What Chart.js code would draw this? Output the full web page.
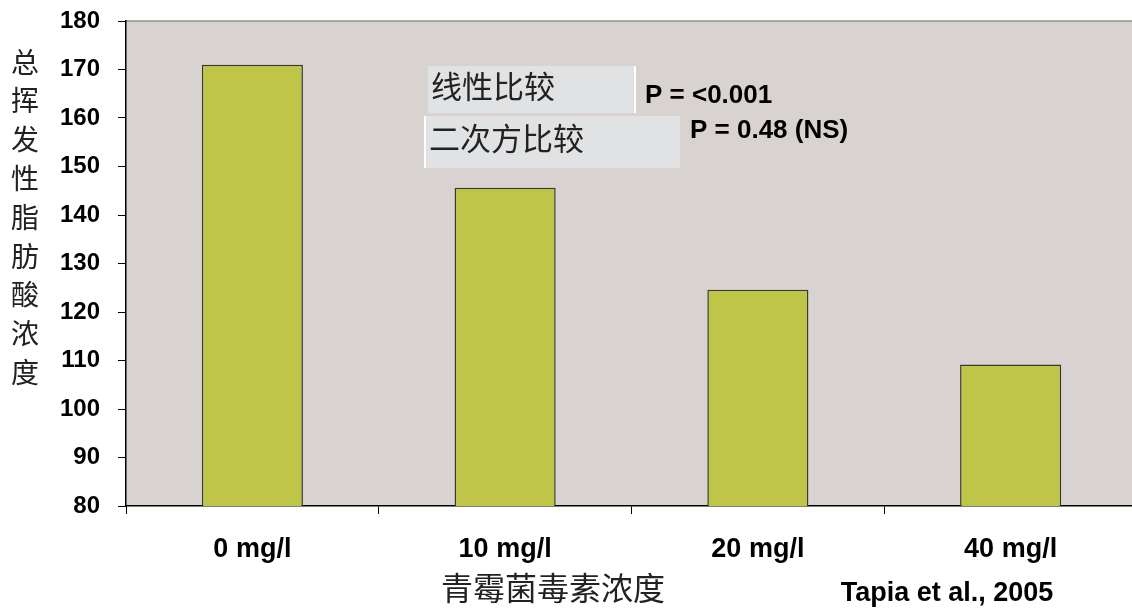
<!DOCTYPE html>
<html lang="zh">
<head>
  <meta charset="UTF-8">
  <title>青霉菌毒素浓度</title>
  <script src="https://cdn.jsdelivr.net/npm/chart.js"></script>
  <style>
    html, body { margin: 0; padding: 0; background: #fff; overflow: hidden; }
    #wrap { position: relative; width: 1142px; height: 613px; }
  </style>
</head>
<body>
<div id="wrap"><canvas id="myChart"></canvas></div>
<script>
  const categories = ['0 mg/l', '10 mg/l', '20 mg/l', '40 mg/l'];
  const values = [171, 145.6, 124.6, 109.2];
  const yTitle = ['总', '挥', '发', '性', '脂', '肪', '酸', '浓', '度'];
  const xTitle = '青霉菌毒素浓度';
  const source = 'Tapia et al., 2005';
  const notes = [
    { label: '线性比较', p: 'P = <0.001' },
    { label: '二次方比较', p: 'P = 0.48 (NS)' }
  ];

  const CJK = '"Noto Sans CJK SC", sans-serif';
  const BOLD = 'bold 27px "Liberation Sans", Arial, sans-serif';

  const decor = {
    id: 'decor',
    beforeDraw(chart) {
      const { ctx, chartArea: a } = chart;
      ctx.save();
      ctx.fillStyle = '#d8d3d0';
      ctx.fillRect(a.left, a.top, a.right - a.left, a.bottom - a.top);
      ctx.strokeStyle = '#8f8f8f';
      ctx.lineWidth = 1.5;
      ctx.beginPath();
      ctx.moveTo(a.left, a.top);
      ctx.lineTo(a.right, a.top);
      ctx.stroke();
      ctx.restore();
    },
    afterDraw(chart) {
      const { ctx } = chart;
      ctx.save();
      ctx.fillStyle = '#222';
      ctx.textAlign = 'center';
      ctx.textBaseline = 'middle';
      ctx.font = '28px ' + CJK;
      yTitle.forEach((ch, i) => ctx.fillText(ch, 25, 62 + i * 38.8));
      ctx.font = '32px ' + CJK;
      ctx.fillText(xTitle, 553, 588);
      ctx.fillStyle = '#000';
      ctx.font = BOLD;
      ctx.fillText(source, 947, 594);

      // annotation boxes
      ctx.fillStyle = '#e1e2e4';
      ctx.fillRect(428, 66, 207, 47);
      ctx.fillRect(424, 116, 256, 52);
      ctx.fillStyle = '#fff';
      ctx.fillRect(634, 66, 2, 47);
      ctx.fillRect(424, 116, 2, 52);
      ctx.fillStyle = '#222';
      ctx.textAlign = 'left';
      ctx.font = '31px ' + CJK;
      ctx.fillText(notes[0].label, 431, 86);
      ctx.fillText(notes[1].label, 429, 138);
      ctx.fillStyle = '#000';
      ctx.font = 'bold 26px "Liberation Sans", Arial, sans-serif';
      ctx.fillText(notes[0].p, 645, 96);
      ctx.fillText(notes[1].p, 690, 131);
      ctx.restore();
    }
  };

  new Chart(document.getElementById('myChart'), {
    type: 'bar',
    data: {
      labels: categories,
      datasets: [{
        data: values,
        backgroundColor: '#bfc546',
        borderColor: '#3a3a2a',
        borderWidth: 1.5,
        barPercentage: 0.4,
        categoryPercentage: 1
      }]
    },
    options: {
      responsive: true,
      maintainAspectRatio: false,
      animation: false,
      layout: { padding: { top: 21, right: 5, left: 0, bottom: 0 } },
      plugins: { legend: { display: false }, tooltip: { enabled: false } },
      scales: {
        x: {
          afterFit(s) { s.height = 107; s.paddingLeft = 0; s.paddingRight = 0; },
          grid: { display: true, drawOnChartArea: false, tickLength: 8, color: '#000', offset: true },
          border: { color: '#000', width: 1.5 },
          ticks: { color: '#000', font: { family: '"Liberation Sans", Arial', size: 27, weight: 'bold' }, padding: 19 }
        },
        y: {
          min: 80,
          max: 180,
          afterFit(s) { s.width = 126; s.paddingTop = 0; s.paddingBottom = 0; },
          grid: { display: true, drawOnChartArea: false, tickLength: 8, color: '#000' },
          border: { color: '#000', width: 1.5 },
          ticks: { stepSize: 10, color: '#000', font: { family: '"Liberation Sans", Arial', size: 24, weight: 'bold' }, padding: 18 }
        }
      }
    },
    plugins: [decor]
  });
</script>
</body>
</html>
